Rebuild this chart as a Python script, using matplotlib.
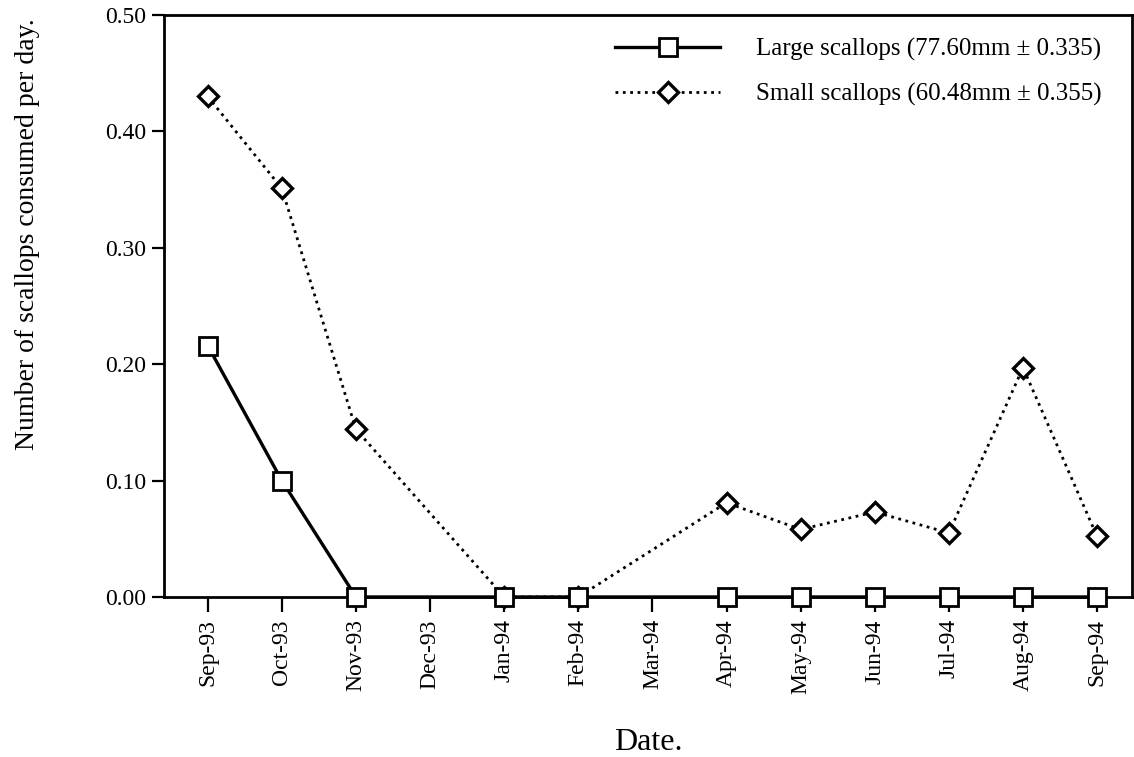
import matplotlib
matplotlib.use("Agg")
import matplotlib.pyplot as plt
import numpy as np

# months on the x axis (Dec-93 and Mar-94 have no samples)
months = ["Sep-93", "Oct-93", "Nov-93", "Dec-93", "Jan-94", "Feb-94", "Mar-94",
          "Apr-94", "May-94", "Jun-94", "Jul-94", "Aug-94", "Sep-94"]
sampled = ["Sep-93", "Oct-93", "Nov-93", "Jan-94", "Feb-94",
           "Apr-94", "May-94", "Jun-94", "Jul-94", "Aug-94", "Sep-94"]

large = [0.216, 0.100, 0.0, 0.0, 0.0, 0.0, 0.0, 0.0, 0.0, 0.0, 0.0]
small = [0.430, 0.351, 0.144, 0.0, 0.0, 0.081, 0.058, 0.073, 0.055, 0.197, 0.052]

large_label = "Large scallops (77.60mm \u00b1 0.335)"
small_label = "Small scallops (60.48mm \u00b1 0.355)"

plt.rcParams["font.family"] = ["Liberation Serif", "DejaVu Serif"]

fig = plt.figure(figsize=(11.34, 7.57), dpi=100)
ax = fig.add_axes([0.1446, 0.2114, 0.8536, 0.7688])

x = [months.index(m) for m in sampled]

# markers sit on the x axis, so don't clip them
ax.plot(x, small, color="black", lw=2.0, ls=":", marker="D", ms=10,
        mfc="white", mec="black", mew=2.4, label=small_label, zorder=6,
        clip_on=False)
ax.plot(x, large, color="black", lw=2.4, ls="-", marker="s", ms=13,
        mfc="white", mec="black", mew=2.0, label=large_label, zorder=7,
        clip_on=False)

ax.set_xlim(-0.59, 12.47)
ax.set_ylim(0, 0.5)
ax.set_xticks(range(len(months)))
ax.set_xticklabels(months, rotation=90, fontsize=17)
ax.set_yticks(np.arange(0, 0.51, 0.1))
ax.set_yticklabels(["%.2f" % v for v in np.arange(0, 0.51, 0.1)], fontsize=17)

ax.tick_params(axis="x", direction="out", length=11, width=1.6, pad=5)
ax.tick_params(axis="y", direction="out", length=9, width=1.6, pad=4)
for s in ax.spines.values():
    s.set_linewidth(2.0)

ax.set_xlabel("Date.", fontsize=23, va="center")
ax.xaxis.set_label_coords(0.5, -0.25)
ax.set_ylabel("Number of scallops consumed per day.", fontsize=20, va="center")
ax.yaxis.set_label_coords(-0.1405, 0.624)

# legend order: large first
h, l = ax.get_legend_handles_labels()
ax.legend(h[::-1], l[::-1], loc="upper left", bbox_to_anchor=(0.466, 0.96),
          frameon=False, fontsize=18, handlelength=4.2, handletextpad=1.45,
          labelspacing=0.85, borderpad=0, borderaxespad=0, numpoints=1)

fig.savefig("out.png", dpi=100)
